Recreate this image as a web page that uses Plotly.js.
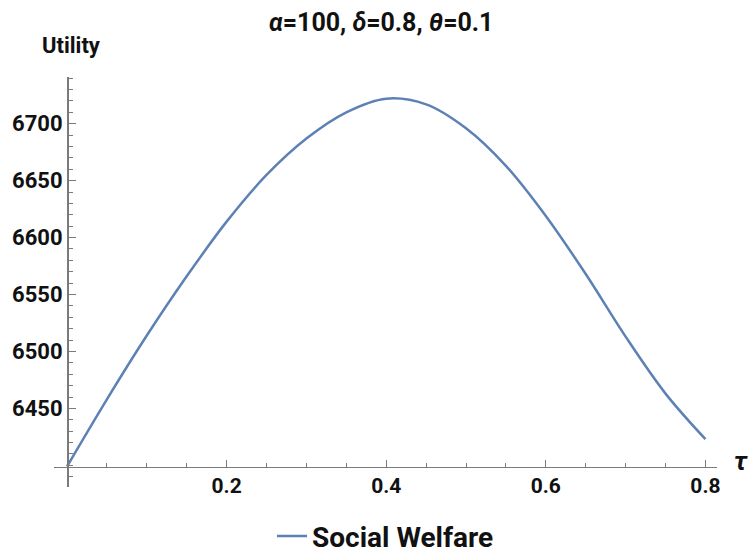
<!DOCTYPE html>
<html>
<head>
<meta charset="utf-8">
<script src="https://cdn.plot.ly/plotly-3.0.1.min.js"></script>
<style>html,body{margin:0;padding:0;background:#fff;}#chart{width:752px;height:553px;}</style>
</head>
<body>
<div id="chart"></div>
<script>
// Data
const tau = [0.00, 0.05, 0.10, 0.15, 0.20, 0.25, 0.30, 0.35, 0.40, 0.45, 0.50, 0.55, 0.60, 0.65, 0.70, 0.75, 0.80];
const socialWelfare = [6399, 6458, 6514, 6566, 6614, 6655, 6687, 6710, 6722, 6717, 6696, 6663, 6619, 6568, 6513, 6463, 6423];
const seriesName = "Social Welfare";
const xTickVals = [0.2, 0.4, 0.6, 0.8];
const xTickText = ["0.2", "0.4", "0.6", "0.8"];
const yTickVals = [6450, 6500, 6550, 6600, 6650, 6700];
const yTickText = ["6450", "6500", "6550", "6600", "6650", "6700"];

const xRange = [-0.0163, 0.8145];
const yRange = [6381, 6741];
const axisOriginY = socialWelfare[0];
const axisOriginX = 0;

const FONT = "Roboto, 'Noto Sans', sans-serif";
const axisColor = "#7a7a7a";

const trace = {
  x: tau, y: socialWelfare, type: "scatter", mode: "lines",
  name: seriesName,
  line: {color: "#5E81B5", width: 2.5, shape: "spline", smoothing: 1.0}
};

const layout = {
  width: 752, height: 553,
  margin: {l: 54, r: 35, t: 77, b: 66, autoexpand: false},
  paper_bgcolor: "#fff", plot_bgcolor: "#fff",
  showlegend: true,
  title: {
    text: "<i>α</i>=100, <i>δ</i>=0.8, <i>θ</i>=0.1",
    font: {family: FONT, size: 25, color: "#111", weight: 700},
    xref: "container", x: 0.507, xanchor: "center",
    yref: "container", y: 0.96, yanchor: "middle"
  },
  xaxis: {
    range: xRange, anchor: "free",
    position: (axisOriginY - yRange[0]) / (yRange[1] - yRange[0]),
    showgrid: false, zeroline: false, showline: true,
    linecolor: axisColor, linewidth: 1.5,
    tickmode: "array", tickvals: xTickVals, ticktext: xTickText,
    ticks: "inside", ticklen: 7, tickwidth: 1.2, tickcolor: axisColor,
    minor: {dtick: 0.05, tick0: 0, ticks: "inside", ticklen: 4, tickwidth: 1, tickcolor: axisColor, showgrid: false},
    tickfont: {family: FONT, size: 21, color: "#111", weight: 700}
  },
  yaxis: {
    range: yRange, anchor: "free",
    position: (axisOriginX - xRange[0]) / (xRange[1] - xRange[0]),
    showgrid: false, zeroline: false, showline: true,
    linecolor: axisColor, linewidth: 1.5,
    tickmode: "array", tickvals: yTickVals, ticktext: yTickText,
    ticks: "inside", ticklen: 7, tickwidth: 1.2, tickcolor: axisColor,
    minor: {dtick: 10, tick0: 6400, ticks: "inside", ticklen: 4, tickwidth: 1, tickcolor: axisColor, showgrid: false},
    tickfont: {family: FONT, size: 22, color: "#111", weight: 700}
  },
  legend: {
    orientation: "h", x: 0.5, xanchor: "center", y: -0.12, yanchor: "middle",
    font: {family: FONT, size: 28, color: "#111", weight: 700}
  },
  annotations: [
    {text: "Utility", xref: "paper", yref: "paper", x: 0.0264, y: 1.0758,
     xanchor: "center", yanchor: "middle", showarrow: false,
     font: {family: FONT, size: 22, color: "#111", weight: 700}},
    {text: "<i>τ</i>", xref: "paper", yref: "paper", x: 1.036, y: 0.064,
     xanchor: "center", yanchor: "middle", showarrow: false,
     font: {family: FONT, size: 26, color: "#111", weight: 700}}
  ]
};

Plotly.newPlot("chart", [trace], layout, {displayModeBar: false, staticPlot: true});
</script>
</body>
</html>
